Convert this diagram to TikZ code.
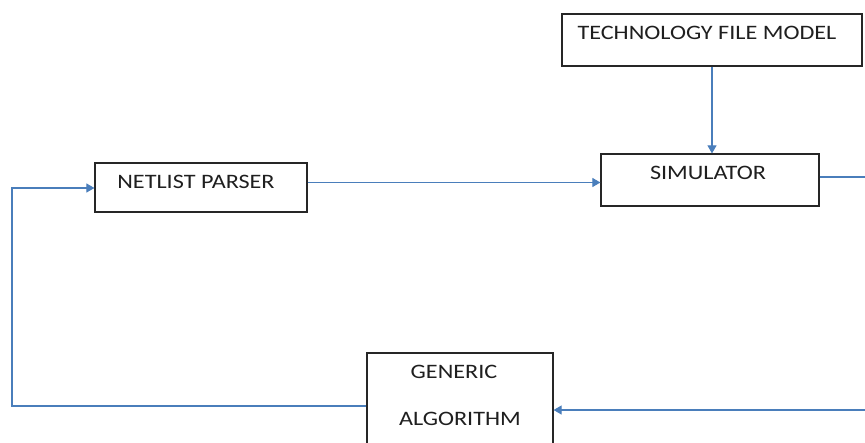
\documentclass[tikz,border=0pt]{standalone}
\usepackage{fontspec}
\setmainfont{Carlito}
\usetikzlibrary{arrows.meta}
\definecolor{lineblue}{HTML}{4A7EBB}
\definecolor{boxline}{HTML}{262626}
\newcommand{\wtxt}[1]{\scalebox{1.18}[1]{#1}}
\tikzset{
  box/.style={draw=boxline, line width=1.2pt, fill=white, inner sep=0pt},
  lbl/.style={inner sep=0pt, text=black!88, font=\fontsize{20.5}{22}\selectfont},
  conn/.style={draw=lineblue, line width=1.1pt, -{Triangle[length=8pt,width=9pt]}},
  plain/.style={draw=lineblue, line width=1.1pt}
}
\begin{document}
\begin{tikzpicture}[x=1pt,y=-1pt]
\useasboundingbox (0,0) rectangle (865,442);
\begin{scope}
\clip (0,0) rectangle (865,442);
% boxes
\node[box, minimum width=300pt, minimum height=52pt] (tech) at (712,40) {};
\node[box, minimum width=218pt, minimum height=52pt] (sim) at (710,180) {};
\node[box, minimum width=212pt, minimum height=49pt] (net) at (201,187.5) {};
\node[box, minimum width=186pt, minimum height=96pt] (gen) at (460,401) {};
% texts
\node[lbl] (techt) at (707,33) {\wtxt{TECHNOLOGY FILE MODEL}};
\node[lbl] (simt) at (708,173) {\wtxt{SIMULATOR}};
\node[lbl] (nett) at (196,182) {\wtxt{NETLIST PARSER}};
\node[lbl] (gent1) at (454,372) {\wtxt{GENERIC}};
\node[lbl] (gent2) at (460,419) {\wtxt{ALGORITHM}};
% free ends
\coordinate (outR) at (866,177);
\coordinate (inR) at (866,410);
\coordinate (loopA) at (12,406);
\coordinate (loopB) at (12,188);
% connectors
\draw[conn] (tech.south) -- (tech.south |- sim.north);
\draw[conn] (net.east |- 0,182.5) -- (sim.west |- 0,182.5);
\draw[plain] (sim.east |- outR) -- (outR);
\draw[conn] (inR) -- (gen.east |- inR);
\draw[conn] (gen.west |- loopA) -- (loopA) -- (loopB) -- (net.west |- loopB);
\end{scope}
\end{tikzpicture}
\end{document}
